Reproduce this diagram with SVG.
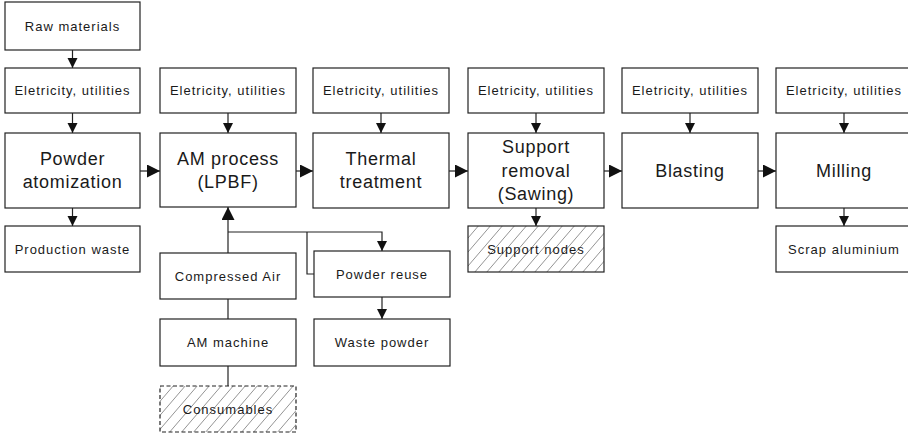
<svg xmlns="http://www.w3.org/2000/svg" width="908" height="434" viewBox="0 0 908 434">
<style>
  .box { fill: #ffffff; stroke: #222; stroke-width: 1.2; }
  .hatch { fill: url(#hatch); stroke: #222; stroke-width: 1.2; }
  .dash { fill: url(#hatch); stroke: #222; stroke-width: 1.2; stroke-dasharray: 4 2.5; }
  .s { font-family: "Liberation Sans", Arial, sans-serif; font-size: 13px; fill: #1a1a1a; text-anchor: middle; letter-spacing: 1px; }
  .b { font-family: "Liberation Sans", Arial, sans-serif; font-size: 18px; fill: #1a1a1a; text-anchor: middle; letter-spacing: 0.7px; }
  .ln { fill: none; stroke: #222; stroke-width: 1.2; }
</style>
<defs>
  <marker id="ah" viewBox="0 0 10 10" refX="10" refY="5" markerWidth="10" markerHeight="11" markerUnits="userSpaceOnUse" orient="auto">
    <path d="M0,0 L10,5 L0,10 Z" fill="#111"/>
  </marker>
  <marker id="ahb" viewBox="0 0 10 10" refX="10" refY="5" markerWidth="13" markerHeight="13" markerUnits="userSpaceOnUse" orient="auto">
    <path d="M0,0 L10,5 L0,10 Z" fill="#111"/>
  </marker>
  <pattern id="hatch" patternUnits="userSpaceOnUse" width="12" height="14">
    <rect width="12" height="14" fill="#fff"/>
    <path d="M-1,15.17 L13,-1.17 M-7,8.17 L7,-8.17 M5,22.17 L19,5.83" stroke="#777" stroke-width="0.8"/>
  </pattern>
</defs>

<g id="connectors">
  <line class="ln" x1="72.5" y1="50" x2="72.5" y2="68" marker-end="url(#ah)"/>
  <line class="ln" x1="72.5" y1="113" x2="72.5" y2="133" marker-end="url(#ah)"/>
  <line class="ln" x1="228" y1="113" x2="228" y2="133" marker-end="url(#ah)"/>
  <line class="ln" x1="381" y1="113" x2="381" y2="133" marker-end="url(#ah)"/>
  <line class="ln" x1="536" y1="113" x2="536" y2="133" marker-end="url(#ah)"/>
  <line class="ln" x1="690" y1="113" x2="690" y2="133" marker-end="url(#ah)"/>
  <line class="ln" x1="844" y1="113" x2="844" y2="133" marker-end="url(#ah)"/>
  <line class="ln" x1="140" y1="171" x2="160" y2="171" marker-end="url(#ahb)"/>
  <line class="ln" x1="296" y1="171" x2="313" y2="171" marker-end="url(#ahb)"/>
  <line class="ln" x1="449" y1="171" x2="468" y2="171" marker-end="url(#ahb)"/>
  <line class="ln" x1="604" y1="171" x2="622" y2="171" marker-end="url(#ahb)"/>
  <line class="ln" x1="758" y1="171" x2="776" y2="171" marker-end="url(#ahb)"/>
  <line class="ln" x1="72.5" y1="208" x2="72.5" y2="226" marker-end="url(#ah)"/>
  <line class="ln" x1="536" y1="208" x2="536" y2="226" marker-end="url(#ah)"/>
  <line class="ln" x1="844" y1="208" x2="844" y2="226" marker-end="url(#ah)"/>
  <line class="ln" x1="228" y1="253" x2="228" y2="207" marker-end="url(#ahb)"/>
  <polyline class="ln" points="228,232 382,232 382,251" marker-end="url(#ah)"/>
  <polyline class="ln" points="307,232 307,274 314,274"/>
  <line class="ln" x1="382" y1="297" x2="382" y2="319" marker-end="url(#ah)"/>
  <line class="ln" x1="228" y1="299" x2="228" y2="319"/>
  <line class="ln" x1="228" y1="366" x2="228" y2="386"/>
</g>

<g id="raw-materials"><rect class="box" x="5" y="2" width="135" height="48"/><text class="s" x="72.5" y="31">Raw materials</text></g>

<g id="util-1"><rect class="box" x="5" y="68" width="135" height="45"/><text class="s" x="72.5" y="95">Eletricity, utilities</text></g>
<g id="util-2"><rect class="box" x="160" y="68" width="136" height="45"/><text class="s" x="228" y="95">Eletricity, utilities</text></g>
<g id="util-3"><rect class="box" x="313" y="68" width="136" height="45"/><text class="s" x="381" y="95">Eletricity, utilities</text></g>
<g id="util-4"><rect class="box" x="468" y="68" width="136" height="45"/><text class="s" x="536" y="95">Eletricity, utilities</text></g>
<g id="util-5"><rect class="box" x="622" y="68" width="136" height="45"/><text class="s" x="690" y="95">Eletricity, utilities</text></g>
<g id="util-6"><rect class="box" x="776" y="68" width="136" height="45"/><text class="s" x="844" y="95">Eletricity, utilities</text></g>

<g id="powder-atomization"><rect class="box" x="5" y="133" width="135" height="75"/><text class="b" x="72.5" y="165">Powder</text><text class="b" x="72.5" y="188">atomization</text></g>
<g id="am-process"><rect class="box" x="160" y="133" width="136" height="74"/><text class="b" x="228" y="165">AM process</text><text class="b" x="228" y="188">(LPBF)</text></g>
<g id="thermal-treatment"><rect class="box" x="313" y="133" width="136" height="75"/><text class="b" x="381" y="165">Thermal</text><text class="b" x="381" y="188">treatment</text></g>
<g id="support-removal"><rect class="box" x="468" y="133" width="136" height="75"/><text class="b" x="536" y="153">Support</text><text class="b" x="536" y="176.5">removal</text><text class="b" x="536" y="200">(Sawing)</text></g>
<g id="blasting"><rect class="box" x="622" y="133" width="136" height="75"/><text class="b" x="690" y="177">Blasting</text></g>
<g id="milling"><rect class="box" x="776" y="133" width="136" height="75"/><text class="b" x="844" y="177">Milling</text></g>

<g id="production-waste"><rect class="box" x="5" y="226" width="135" height="46"/><text class="s" x="72.5" y="253.5">Production waste</text></g>
<g id="support-nodes"><rect class="hatch" x="468" y="226" width="136" height="46"/><text class="s" x="536" y="253.5">Support nodes</text></g>
<g id="scrap-aluminium"><rect class="box" x="776" y="226" width="136" height="46"/><text class="s" x="844" y="253.5">Scrap aluminium</text></g>

<g id="compressed-air"><rect class="box" x="160" y="253" width="136" height="46"/><text class="s" x="228" y="280.5">Compressed Air</text></g>
<g id="powder-reuse"><rect class="box" x="314" y="251" width="136" height="46"/><text class="s" x="382" y="278.5">Powder reuse</text></g>
<g id="am-machine"><rect class="box" x="160" y="319" width="136" height="47"/><text class="s" x="228" y="347">AM machine</text></g>
<g id="waste-powder"><rect class="box" x="314" y="319" width="136" height="47"/><text class="s" x="382" y="347">Waste powder</text></g>
<g id="consumables"><rect class="dash" x="160" y="386" width="136" height="46"/><text class="s" x="228" y="413.5">Consumables</text></g>
</svg>
